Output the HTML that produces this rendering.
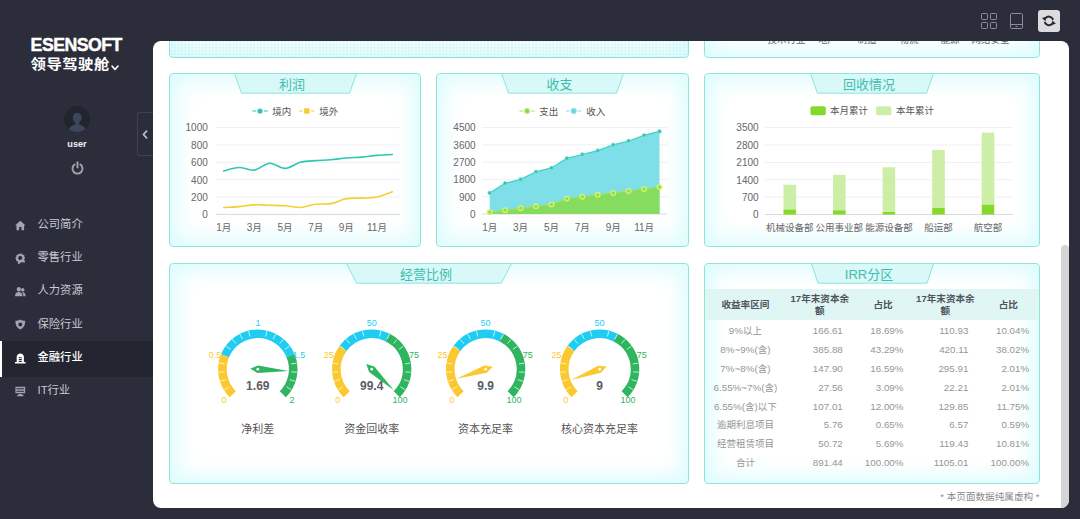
<!DOCTYPE html>
<html lang="zh"><head><meta charset="utf-8"><title>ESENSOFT</title><style>
html,body{margin:0;padding:0}
body{width:1080px;height:519px;overflow:hidden;background:#2b2d3b;position:relative;font-family:"Liberation Sans","Noto Sans CJK SC",sans-serif;}
.abs{position:absolute}
svg{display:block;overflow:visible}
span.cj{font-family:"Liberation Sans","Noto Sans CJK SC",sans-serif}
#wrap{background:#fff;border-radius:8px;overflow:hidden}
#inner{position:absolute;left:-153px;top:-41px;width:1080px;height:519px}
.panel{position:absolute;box-sizing:border-box;border:1px solid #8fe5dc;border-radius:4px;background:#fff;box-shadow:inset 0 0 20px 7px rgba(150,245,248,0.33)}
.panel.dots{background-color:#f6fefe;background-image:radial-gradient(rgba(110,190,210,0.22) 0.5px,transparent 0.95px);background-size:3.45px 3.1px}
.lb{position:absolute;white-space:nowrap;line-height:1}
.ttl{font-size:13px;color:#3cbfae}
.ax{font-size:10px;color:#666}
.lg{font-size:10px;color:#555}
.gl{font-size:9px}
.gv{font-size:12px;font-weight:bold;color:#5b5d66}
.gn{font-size:11px;color:#555}
.th{font-size:9.6px;font-weight:bold;color:#50545a}
.td{font-size:9.8px;color:#969696}
.ft{font-size:9.6px;color:#8a8a8a}
.ax span.cj,.lg span.cj,.td span.cj{font-size:9.5px}
.mi{font-size:11.3px;color:#c8cad2}
.mi.act{color:#fff}
.mi.act span.cj{font-weight:500}
.logo{font-size:17.7px;font-weight:bold;color:#fff;letter-spacing:-0.5px;line-height:1;-webkit-text-stroke:0.45px #fff}
.logo2{font-size:15.4px;color:#fff;line-height:1;letter-spacing:0.45px;transform:scaleY(0.92);transform-origin:0 100%;white-space:nowrap}
.logo2 span.cj{font-weight:bold}
.user{font-size:9.2px;font-weight:bold;color:#f0f0f2;line-height:1}
</style></head><body>
<div class="abs logo" style="left:30.6px;top:37.2px">ESENSOFT</div><div class="abs logo2" style="left:30.6px;top:56.2px"><span class="cj">领导驾驶舱</span></div><svg class="abs" style="left:110.6px;top:65px" width="8" height="6" viewBox="0 0 8 6"><path d="M1,1 L4,4.4 L7,1" fill="none" stroke="#fff" stroke-width="1.6" stroke-linecap="round" stroke-linejoin="round"/></svg><svg class="abs" style="left:63.8px;top:105.8px" width="26" height="26" viewBox="0 0 28 28"><defs><clipPath id="avc"><circle cx="14" cy="14" r="14"/></clipPath></defs><circle cx="14" cy="14" r="14" fill="#22242e"/><g clip-path="url(#avc)" fill="#3b475a"><ellipse cx="14.2" cy="12.6" rx="4.7" ry="5.4"/><path d="M12,16 H16.4 V21 H12 Z"/><path d="M5,28 C5,22.4 9,20 14.2,20 C19.4,20 23.4,22.4 23.4,28 Z"/></g></svg><div class="abs user" style="left:77px;top:144.5px;transform:translate(-50%,-50%)">user</div><svg class="abs" style="left:70.5px;top:161.2px" width="13" height="14" viewBox="0 0 13 14"><path d="M3.6,3.6 A5,5 0 1 0 9.4,3.6" fill="none" stroke="#a0a2ac" stroke-width="1.9" stroke-linecap="round"/><line x1="6.5" y1="1.2" x2="6.5" y2="6.4" stroke="#a0a2ac" stroke-width="1.9" stroke-linecap="round"/></svg><div class="abs" style="left:136.5px;top:112px;width:17px;height:44px;box-sizing:border-box;border:1px solid #3e4150;border-right:none;border-radius:3px 0 0 3px;background:#2b2d3b"></div><svg class="abs" style="left:141.8px;top:130px" width="6" height="9" viewBox="0 0 6 9"><path d="M4.6,1.2 L1.4,4.5 L4.6,7.8" fill="none" stroke="#c0c2cb" stroke-width="1.7" stroke-linecap="round" stroke-linejoin="round"/></svg><svg class="abs" style="left:15.3px;top:219.6px" width="10.6" height="10.6" viewBox="0 0 10 10" fill="#a2a4af"><path d="M5,0.6 L10,5.2 H8.6 V9.6 H6.1 V6.6 H3.9 V9.6 H1.4 V5.2 H0 Z"/></svg><div class="lb mi" style="left:37.5px;top:224.8px;transform:translate(0,-50%);"><span class="cj">公司简介</span></div><svg class="abs" style="left:15.3px;top:252.9px" width="10.6" height="10.6" viewBox="0 0 10 10" fill="#a2a4af"><path transform="rotate(-16 5 5)" d="M5,0.3 L6.2,1.2 L7.7,1.1 L8.2,2.5 L9.5,3.3 L9,4.7 L9.5,6.1 L8.2,6.9 L8.4,10 L5,8.8 L1.6,10 L1.8,6.9 L0.5,6.1 L1,4.7 L0.5,3.3 L1.8,2.5 L2.3,1.1 L3.8,1.2 Z M5,2.7 A1.9,1.9 0 1 0 5,6.5 A1.9,1.9 0 1 0 5,2.7 Z" fill-rule="evenodd"/></svg><div class="lb mi" style="left:37.5px;top:258.1px;transform:translate(0,-50%);"><span class="cj">零售行业</span></div><svg class="abs" style="left:15.3px;top:286.1px" width="10.6" height="10.6" viewBox="0 0 10 10" fill="#a2a4af"><path d="M3.6,1 A2,2.1 0 1 1 3.59,1 Z M0,9.6 C0,6.6 1.6,5.6 3.6,5.6 C5.6,5.6 7.2,6.6 7.2,9.6 Z M7.3,1.9 A1.6,1.7 0 1 1 7.29,1.9 Z M7.9,9.6 C7.9,7.6 7.4,6.6 6.6,5.9 C8.6,5.4 10,6.6 10,9.6 Z"/></svg><div class="lb mi" style="left:37.5px;top:291.3px;transform:translate(0,-50%);"><span class="cj">人力资源</span></div><svg class="abs" style="left:15.3px;top:319.4px" width="10.6" height="10.6" viewBox="0 0 10 10" fill="#a2a4af"><path d="M5,0.4 C6.5,1.4 8,1.7 9.6,1.7 C9.6,5.7 8.4,8.4 5,9.9 C1.6,8.4 0.4,5.7 0.4,1.7 C2,1.7 3.5,1.4 5,0.4 Z M5,3.2 A1.9,1.9 0 1 0 5,7 A1.9,1.9 0 1 0 5,3.2 Z" fill-rule="evenodd"/></svg><div class="lb mi" style="left:37.5px;top:324.6px;transform:translate(0,-50%);"><span class="cj">保险行业</span></div><div class="abs" style="left:0;top:340.8px;width:153px;height:36.6px;background:#232531"></div><div class="abs" style="left:0;top:340.8px;width:2.2px;height:36.6px;background:#fff"></div><svg class="abs" style="left:15.3px;top:352.6px" width="10.6" height="10.6" viewBox="0 0 10 10" fill="#fff"><path d="M1.6,8.4 V3.8 C1.6,1.6 3.2,0.4 5,0.4 C6.8,0.4 8.4,1.6 8.4,3.8 V8.4 H10 V9.8 H0 V8.4 Z M3.6,4 H6.4 V4.9 H3.6 Z M3.6,5.7 H6.4 V6.6 H3.6 Z M3.6,7.4 H6.4 V8.4 H3.6 Z" fill-rule="evenodd"/></svg><div class="lb mi act" style="left:37.5px;top:357.8px;transform:translate(0,-50%);"><span class="cj">金融行业</span></div><svg class="abs" style="left:15.3px;top:385.9px" width="10.6" height="10.6" viewBox="0 0 10 10" fill="#a2a4af"><path d="M0.4,0.8 H9.6 V6.8 H0.4 Z M3.2,7.6 H6.8 V8.6 H8 V9.6 H2 V8.6 H3.2 Z M1.4,2 H8.6 V2.6 H1.4 Z M1.4,3.5 H8.6 V4.1 H1.4 Z M1.4,5 H8.6 V5.6 H1.4 Z" fill-rule="evenodd"/></svg><div class="lb mi" style="left:37.5px;top:391.1px;transform:translate(0,-50%);">IT<span class="cj">行业</span></div>
<svg class="abs" style="left:981px;top:13px" width="16" height="16" viewBox="0 0 16 16" fill="none" stroke="#8b8e9a" stroke-width="1"><rect x="0.5" y="0.5" width="6" height="6" rx="0.8"/><rect x="9.5" y="0.5" width="6" height="6" rx="0.8"/><rect x="0.5" y="9.5" width="6" height="6" rx="0.8"/><rect x="9.5" y="9.5" width="6" height="6" rx="0.8"/></svg><svg class="abs" style="left:1010px;top:13px" width="13" height="16" viewBox="0 0 13 16" fill="none" stroke="#8b8e9a" stroke-width="1"><rect x="0.5" y="0.5" width="12" height="15" rx="1.2"/><line x1="0.5" y1="11.5" x2="12.5" y2="11.5"/><line x1="5.5" y1="13.5" x2="7.5" y2="13.5"/></svg><div class="abs" style="left:1038px;top:10px;width:22px;height:22px;border-radius:3px;background:#dcdcde"></div><svg class="abs" style="left:0;top:0" width="1080" height="40" viewBox="0 0 1080 40" fill="none" stroke="#262834" stroke-width="2" stroke-linecap="round"><path d="M1045.61,18.14 A4.3,4.3 0 0 1 1052.83,19.15"/><path d="M1052.19,23.66 A4.3,4.3 0 0 1 1044.97,22.65"/><polygon points="1041.90,18.00 1046.30,16.70 1045.40,21.20" fill="#262834" stroke="none"/><polygon points="1055.90,23.80 1051.50,25.10 1052.40,20.60" fill="#262834" stroke="none"/></svg>
<div class="abs" id="wrap" style="left:153px;top:41px;width:916px;height:466.5px"><div id="inner">
<div class="panel dots" style="left:169px;top:-60px;width:520px;height:118px"></div><div class="panel " style="left:704px;top:-60px;width:336px;height:118px"></div><div class="lb ax" style="left:786.5px;top:39.8px;transform:translate(-50%,-50%);"><span class="cj">技术行业</span></div><div class="lb ax" style="left:827.5px;top:39.8px;transform:translate(-50%,-50%);"><span class="cj">地产</span></div><div class="lb ax" style="left:867.0px;top:39.8px;transform:translate(-50%,-50%);"><span class="cj">制造</span></div><div class="lb ax" style="left:909.0px;top:39.8px;transform:translate(-50%,-50%);"><span class="cj">物流</span></div><div class="lb ax" style="left:950.0px;top:39.8px;transform:translate(-50%,-50%);"><span class="cj">能源</span></div><div class="lb ax" style="left:990.5px;top:39.8px;transform:translate(-50%,-50%);"><span class="cj">网络安全</span></div><div class="panel " style="left:169px;top:73px;width:252px;height:174px"></div><svg class="abs" style="left:233.5px;top:73px" width="123" height="22" viewBox="0 0 123 22"><polygon points="0.5,0.5 122.5,0.5 115.5,20.2 7.5,20.2" fill="#d9f8f8" stroke="#8fe5dc" stroke-width="1"/></svg><div class="lb ttl" style="left:292.0px;top:83.8px;transform:translate(-50%,-50%);"><span class="cj">利润</span></div><div class="panel " style="left:436px;top:73px;width:253px;height:174px"></div><svg class="abs" style="left:501.0px;top:73px" width="123" height="22" viewBox="0 0 123 22"><polygon points="0.5,0.5 122.5,0.5 115.5,20.2 7.5,20.2" fill="#d9f8f8" stroke="#8fe5dc" stroke-width="1"/></svg><div class="lb ttl" style="left:559.5px;top:83.8px;transform:translate(-50%,-50%);"><span class="cj">收支</span></div><div class="panel " style="left:704px;top:73px;width:336px;height:174px"></div><svg class="abs" style="left:810.0px;top:73px" width="124" height="22" viewBox="0 0 124 22"><polygon points="0.5,0.5 123.5,0.5 116.6,20.2 7.4,20.2" fill="#d9f8f8" stroke="#8fe5dc" stroke-width="1"/></svg><div class="lb ttl" style="left:869.0px;top:83.8px;transform:translate(-50%,-50%);"><span class="cj">回收情况</span></div><div class="panel " style="left:169px;top:263px;width:520px;height:221px"></div><svg class="abs" style="left:346.0px;top:263px" width="166" height="22" viewBox="0 0 166 22"><polygon points="0.5,0.5 165.5,0.5 155.4,20.2 10.6,20.2" fill="#d9f8f8" stroke="#8fe5dc" stroke-width="1"/></svg><div class="lb ttl" style="left:426.0px;top:273.8px;transform:translate(-50%,-50%);"><span class="cj">经营比例</span></div><div class="panel " style="left:704px;top:263px;width:336px;height:221px"></div><svg class="abs" style="left:810.5px;top:263px" width="123" height="22" viewBox="0 0 123 22"><polygon points="0.5,0.5 122.5,0.5 116,20.2 7,20.2" fill="#d9f8f8" stroke="#8fe5dc" stroke-width="1"/></svg><div class="lb ttl" style="left:869.0px;top:273.8px;transform:translate(-50%,-50%);">IRR<span class="cj">分区</span></div><svg class="abs" style="left:0;top:0" width="1080" height="519" viewBox="0 0 1080 519"><line x1="216.0" x2="400.0" y1="214.4" y2="214.4" stroke="#d9d9d9" stroke-width="1"/><line x1="216.0" x2="400.0" y1="197.0" y2="197.0" stroke="#efefef" stroke-width="1"/><line x1="216.0" x2="400.0" y1="179.7" y2="179.7" stroke="#efefef" stroke-width="1"/><line x1="216.0" x2="400.0" y1="162.3" y2="162.3" stroke="#efefef" stroke-width="1"/><line x1="216.0" x2="400.0" y1="145.0" y2="145.0" stroke="#efefef" stroke-width="1"/><line x1="216.0" x2="400.0" y1="127.6" y2="127.6" stroke="#efefef" stroke-width="1"/><path d="M223.7,171.0C226.2,170.4 233.9,167.7 239.0,167.5C244.1,167.4 249.2,170.9 254.3,170.1C259.4,169.4 264.6,163.5 269.7,163.2C274.8,162.9 279.9,168.5 285.0,168.4C290.1,168.3 295.2,163.6 300.3,162.3C305.4,161.0 310.6,161.0 315.7,160.6C320.8,160.2 325.9,160.2 331.0,159.7C336.1,159.3 341.2,158.4 346.3,158.0C351.4,157.5 356.6,157.5 361.7,157.1C366.8,156.7 371.9,155.8 377.0,155.4C382.1,154.9 389.8,154.7 392.3,154.5" fill="none" stroke="#2ec7b5" stroke-width="1.6" stroke-linecap="round"/><path d="M223.7,207.5C226.2,207.3 233.9,207.0 239.0,206.6C244.1,206.2 249.2,205.1 254.3,204.9C259.4,204.6 264.6,205.1 269.7,205.3C274.8,205.4 279.9,205.4 285.0,205.7C290.1,206.1 295.2,207.7 300.3,207.5C305.4,207.2 310.6,204.8 315.7,204.2C320.8,203.5 325.9,204.5 331.0,203.6C336.1,202.6 341.2,199.5 346.3,198.6C351.4,197.7 356.6,198.3 361.7,198.1C366.8,197.8 371.9,198.1 377.0,197.0C382.1,196.0 389.8,192.7 392.3,191.8" fill="none" stroke="#f2cf33" stroke-width="1.6" stroke-linecap="round"/><line x1="252.3" x2="267.8" y1="111" y2="111" stroke="#2ec7b5" stroke-width="1.1"/><circle cx="260" cy="111" r="3.3" fill="#2ec7b5" stroke="#fff" stroke-width="1.4"/><line x1="299" x2="314.6" y1="111" y2="111" stroke="#f2cf33" stroke-width="1.1"/><rect x="303.4" y="107.6" width="6.8" height="6.8" fill="#f2cf33" stroke="#fff" stroke-width="1.4"/></svg><div class="lb ax" style="left:207.8px;top:215.2px;transform:translate(-100%,-50%);">0</div><div class="lb ax" style="left:207.8px;top:197.8px;transform:translate(-100%,-50%);">200</div><div class="lb ax" style="left:207.8px;top:180.5px;transform:translate(-100%,-50%);">400</div><div class="lb ax" style="left:207.8px;top:163.1px;transform:translate(-100%,-50%);">600</div><div class="lb ax" style="left:207.8px;top:145.8px;transform:translate(-100%,-50%);">800</div><div class="lb ax" style="left:207.8px;top:128.4px;transform:translate(-100%,-50%);">1000</div><div class="lb lg" style="left:272.3px;top:111.6px;transform:translate(0,-50%);"><span class="cj">境内</span></div><div class="lb lg" style="left:319.2px;top:111.6px;transform:translate(0,-50%);"><span class="cj">境外</span></div><div class="lb ax" style="left:223.7px;top:228.2px;transform:translate(-50%,-50%);">1<span class="cj">月</span></div><div class="lb ax" style="left:254.3px;top:228.2px;transform:translate(-50%,-50%);">3<span class="cj">月</span></div><div class="lb ax" style="left:285.0px;top:228.2px;transform:translate(-50%,-50%);">5<span class="cj">月</span></div><div class="lb ax" style="left:315.7px;top:228.2px;transform:translate(-50%,-50%);">7<span class="cj">月</span></div><div class="lb ax" style="left:346.3px;top:228.2px;transform:translate(-50%,-50%);">9<span class="cj">月</span></div><div class="lb ax" style="left:377.0px;top:228.2px;transform:translate(-50%,-50%);">11<span class="cj">月</span></div><svg class="abs" style="left:0;top:0" width="1080" height="519" viewBox="0 0 1080 519"><line x1="482.0" x2="667.2" y1="214.0" y2="214.0" stroke="#d9d9d9" stroke-width="1"/><line x1="482.0" x2="667.2" y1="196.7" y2="196.7" stroke="#efefef" stroke-width="1"/><line x1="482.0" x2="667.2" y1="179.4" y2="179.4" stroke="#efefef" stroke-width="1"/><line x1="482.0" x2="667.2" y1="162.2" y2="162.2" stroke="#efefef" stroke-width="1"/><line x1="482.0" x2="667.2" y1="144.9" y2="144.9" stroke="#efefef" stroke-width="1"/><line x1="482.0" x2="667.2" y1="127.6" y2="127.6" stroke="#efefef" stroke-width="1"/><polygon points="489.7,192.9 505.1,183.3 520.6,179.4 536.0,171.8 551.5,167.9 566.9,158.3 582.3,154.5 597.8,150.6 613.2,144.9 628.6,141.0 644.1,135.3 659.5,131.4 659.5,214.0 489.7,214.0" fill="#7edfe9"/><polygon points="489.7,212.1 505.1,210.2 520.6,208.2 536.0,206.3 551.5,204.4 566.9,198.6 582.3,196.7 597.8,194.8 613.2,192.9 628.6,191.0 644.1,189.0 659.5,187.1 659.5,214.0 489.7,214.0" fill="#86dc5e"/><polyline points="489.7,192.9 505.1,183.3 520.6,179.4 536.0,171.8 551.5,167.9 566.9,158.3 582.3,154.5 597.8,150.6 613.2,144.9 628.6,141.0 644.1,135.3 659.5,131.4" fill="none" stroke="#3ccfc4" stroke-width="1.2"/><polyline points="489.7,212.1 505.1,210.2 520.6,208.2 536.0,206.3 551.5,204.4 566.9,198.6 582.3,196.7 597.8,194.8 613.2,192.9 628.6,191.0 644.1,189.0 659.5,187.1" fill="none" stroke="#9be35f" stroke-width="1.2"/><circle cx="489.7" cy="192.9" r="1.9" fill="#2fc3b0" stroke="#7fe6e0" stroke-width="0.8"/><circle cx="505.1" cy="183.3" r="1.9" fill="#2fc3b0" stroke="#7fe6e0" stroke-width="0.8"/><circle cx="520.6" cy="179.4" r="1.9" fill="#2fc3b0" stroke="#7fe6e0" stroke-width="0.8"/><circle cx="536.0" cy="171.8" r="1.9" fill="#2fc3b0" stroke="#7fe6e0" stroke-width="0.8"/><circle cx="551.5" cy="167.9" r="1.9" fill="#2fc3b0" stroke="#7fe6e0" stroke-width="0.8"/><circle cx="566.9" cy="158.3" r="1.9" fill="#2fc3b0" stroke="#7fe6e0" stroke-width="0.8"/><circle cx="582.3" cy="154.5" r="1.9" fill="#2fc3b0" stroke="#7fe6e0" stroke-width="0.8"/><circle cx="597.8" cy="150.6" r="1.9" fill="#2fc3b0" stroke="#7fe6e0" stroke-width="0.8"/><circle cx="613.2" cy="144.9" r="1.9" fill="#2fc3b0" stroke="#7fe6e0" stroke-width="0.8"/><circle cx="628.6" cy="141.0" r="1.9" fill="#2fc3b0" stroke="#7fe6e0" stroke-width="0.8"/><circle cx="644.1" cy="135.3" r="1.9" fill="#2fc3b0" stroke="#7fe6e0" stroke-width="0.8"/><circle cx="659.5" cy="131.4" r="1.9" fill="#2fc3b0" stroke="#7fe6e0" stroke-width="0.8"/><circle cx="489.7" cy="212.1" r="2.3" fill="#8fdc57" stroke="#d6f36a" stroke-width="1.3"/><circle cx="505.1" cy="210.2" r="2.3" fill="#8fdc57" stroke="#d6f36a" stroke-width="1.3"/><circle cx="520.6" cy="208.2" r="2.3" fill="#8fdc57" stroke="#d6f36a" stroke-width="1.3"/><circle cx="536.0" cy="206.3" r="2.3" fill="#8fdc57" stroke="#d6f36a" stroke-width="1.3"/><circle cx="551.5" cy="204.4" r="2.3" fill="#8fdc57" stroke="#d6f36a" stroke-width="1.3"/><circle cx="566.9" cy="198.6" r="2.3" fill="#8fdc57" stroke="#d6f36a" stroke-width="1.3"/><circle cx="582.3" cy="196.7" r="2.3" fill="#8fdc57" stroke="#d6f36a" stroke-width="1.3"/><circle cx="597.8" cy="194.8" r="2.3" fill="#8fdc57" stroke="#d6f36a" stroke-width="1.3"/><circle cx="613.2" cy="192.9" r="2.3" fill="#8fdc57" stroke="#d6f36a" stroke-width="1.3"/><circle cx="628.6" cy="191.0" r="2.3" fill="#8fdc57" stroke="#d6f36a" stroke-width="1.3"/><circle cx="644.1" cy="189.0" r="2.3" fill="#8fdc57" stroke="#d6f36a" stroke-width="1.3"/><circle cx="659.5" cy="187.1" r="2.3" fill="#8fdc57" stroke="#d6f36a" stroke-width="1.3"/><line x1="519.4" x2="534.8" y1="111" y2="111" stroke="#a9e75f" stroke-width="1.1"/><circle cx="527.1" cy="111" r="4" fill="#fff"/><circle cx="527.1" cy="111" r="2.3" fill="#80d552" stroke="#b4e868" stroke-width="1.3"/><line x1="566" x2="581.4" y1="111" y2="111" stroke="#7ddfe9" stroke-width="1.1"/><circle cx="573.7" cy="111" r="4" fill="#fff"/><circle cx="573.7" cy="111" r="2.4" fill="#5fd3e3" stroke="#84e1ec" stroke-width="1.2"/></svg><div class="lb ax" style="left:475.6px;top:214.8px;transform:translate(-100%,-50%);">0</div><div class="lb ax" style="left:475.6px;top:197.5px;transform:translate(-100%,-50%);">900</div><div class="lb ax" style="left:475.6px;top:180.2px;transform:translate(-100%,-50%);">1800</div><div class="lb ax" style="left:475.6px;top:163.0px;transform:translate(-100%,-50%);">2700</div><div class="lb ax" style="left:475.6px;top:145.7px;transform:translate(-100%,-50%);">3600</div><div class="lb ax" style="left:475.6px;top:128.4px;transform:translate(-100%,-50%);">4500</div><div class="lb lg" style="left:539.2px;top:111.5px;transform:translate(0,-50%);"><span class="cj">支出</span></div><div class="lb lg" style="left:586.2px;top:111.5px;transform:translate(0,-50%);"><span class="cj">收入</span></div><div class="lb ax" style="left:489.7px;top:228.1px;transform:translate(-50%,-50%);">1<span class="cj">月</span></div><div class="lb ax" style="left:520.6px;top:228.1px;transform:translate(-50%,-50%);">3<span class="cj">月</span></div><div class="lb ax" style="left:551.5px;top:228.1px;transform:translate(-50%,-50%);">5<span class="cj">月</span></div><div class="lb ax" style="left:582.3px;top:228.1px;transform:translate(-50%,-50%);">7<span class="cj">月</span></div><div class="lb ax" style="left:613.2px;top:228.1px;transform:translate(-50%,-50%);">9<span class="cj">月</span></div><div class="lb ax" style="left:644.1px;top:228.1px;transform:translate(-50%,-50%);">11<span class="cj">月</span></div><svg class="abs" style="left:0;top:0" width="1080" height="519" viewBox="0 0 1080 519"><line x1="765.0" x2="1012.8" y1="214.5" y2="214.5" stroke="#d9d9d9" stroke-width="1"/><line x1="765.0" x2="1012.8" y1="197.1" y2="197.1" stroke="#efefef" stroke-width="1"/><line x1="765.0" x2="1012.8" y1="179.7" y2="179.7" stroke="#efefef" stroke-width="1"/><line x1="765.0" x2="1012.8" y1="162.4" y2="162.4" stroke="#efefef" stroke-width="1"/><line x1="765.0" x2="1012.8" y1="145.0" y2="145.0" stroke="#efefef" stroke-width="1"/><line x1="765.0" x2="1012.8" y1="127.6" y2="127.6" stroke="#efefef" stroke-width="1"/><rect x="783.5" y="184.7" width="12.6" height="24.8" fill="#cdeea6"/><rect x="783.5" y="209.5" width="12.6" height="5.0" fill="#84d92b"/><rect x="833.0" y="174.8" width="12.6" height="35.5" fill="#cdeea6"/><rect x="833.0" y="210.3" width="12.6" height="4.2" fill="#84d92b"/><rect x="882.6" y="167.3" width="12.6" height="44.7" fill="#cdeea6"/><rect x="882.6" y="212.0" width="12.6" height="2.5" fill="#84d92b"/><rect x="932.2" y="149.9" width="12.6" height="58.1" fill="#cdeea6"/><rect x="932.2" y="208.0" width="12.6" height="6.5" fill="#84d92b"/><rect x="981.7" y="132.6" width="12.6" height="72.3" fill="#cdeea6"/><rect x="981.7" y="204.8" width="12.6" height="9.7" fill="#84d92b"/><rect x="810.4" y="106.2" width="15.4" height="9" rx="2" fill="#84d92b"/><rect x="876" y="106.2" width="15.4" height="9" rx="2" fill="#cdeea6"/></svg><div class="lb ax" style="left:758.6px;top:215.3px;transform:translate(-100%,-50%);">0</div><div class="lb ax" style="left:758.6px;top:197.9px;transform:translate(-100%,-50%);">700</div><div class="lb ax" style="left:758.6px;top:180.5px;transform:translate(-100%,-50%);">1400</div><div class="lb ax" style="left:758.6px;top:163.2px;transform:translate(-100%,-50%);">2100</div><div class="lb ax" style="left:758.6px;top:145.8px;transform:translate(-100%,-50%);">2800</div><div class="lb ax" style="left:758.6px;top:128.4px;transform:translate(-100%,-50%);">3500</div><div class="lb ax" style="left:789.8px;top:228.2px;transform:translate(-50%,-50%);"><span class="cj">机械设备部</span></div><div class="lb ax" style="left:839.3px;top:228.2px;transform:translate(-50%,-50%);"><span class="cj">公用事业部</span></div><div class="lb ax" style="left:888.9px;top:228.2px;transform:translate(-50%,-50%);"><span class="cj">能源设备部</span></div><div class="lb ax" style="left:938.5px;top:228.2px;transform:translate(-50%,-50%);"><span class="cj">船运部</span></div><div class="lb ax" style="left:988.0px;top:228.2px;transform:translate(-50%,-50%);"><span class="cj">航空部</span></div><div class="lb lg" style="left:830.0px;top:111.0px;transform:translate(0,-50%);"><span class="cj">本月累计</span></div><div class="lb lg" style="left:896.0px;top:111.0px;transform:translate(0,-50%);"><span class="cj">本年累计</span></div><svg class="abs" style="left:0;top:0" width="1080" height="519" viewBox="0 0 1080 519"><path d="M232.77,394.23A35.400000000000006,35.400000000000006 0 0 1 225.09,355.65" fill="none" stroke="#fbc92f" stroke-width="8.6"/><path d="M225.09,355.65A35.400000000000006,35.400000000000006 0 0 1 290.51,355.65" fill="none" stroke="#1fcdf2" stroke-width="8.6"/><path d="M290.51,355.65A35.400000000000006,35.400000000000006 0 0 1 282.83,394.23" fill="none" stroke="#2fb560" stroke-width="8.6"/><line x1="224.38" y1="389.68" x2="229.07" y2="386.81" stroke="#fff" stroke-width="0.9" stroke-opacity="0.8"/><line x1="220.52" y1="381.31" x2="225.75" y2="379.61" stroke="#fff" stroke-width="0.9" stroke-opacity="0.8"/><line x1="218.72" y1="372.28" x2="224.20" y2="371.84" stroke="#fff" stroke-width="0.9" stroke-opacity="0.8"/><line x1="219.08" y1="363.07" x2="224.51" y2="363.93" stroke="#fff" stroke-width="0.9" stroke-opacity="0.8"/><line x1="226.09" y1="346.16" x2="230.54" y2="349.39" stroke="#fff" stroke-width="0.9" stroke-opacity="0.8"/><line x1="232.34" y1="339.39" x2="235.91" y2="343.57" stroke="#fff" stroke-width="0.9" stroke-opacity="0.8"/><line x1="240.00" y1="334.27" x2="242.50" y2="339.17" stroke="#fff" stroke-width="0.9" stroke-opacity="0.8"/><line x1="248.65" y1="331.08" x2="249.93" y2="336.43" stroke="#fff" stroke-width="0.9" stroke-opacity="0.8"/><line x1="266.95" y1="331.08" x2="265.67" y2="336.43" stroke="#fff" stroke-width="0.9" stroke-opacity="0.8"/><line x1="275.60" y1="334.27" x2="273.10" y2="339.17" stroke="#fff" stroke-width="0.9" stroke-opacity="0.8"/><line x1="283.26" y1="339.39" x2="279.69" y2="343.57" stroke="#fff" stroke-width="0.9" stroke-opacity="0.8"/><line x1="289.51" y1="346.16" x2="285.06" y2="349.39" stroke="#fff" stroke-width="0.9" stroke-opacity="0.8"/><line x1="296.52" y1="363.07" x2="291.09" y2="363.93" stroke="#fff" stroke-width="0.9" stroke-opacity="0.8"/><line x1="296.88" y1="372.28" x2="291.40" y2="371.84" stroke="#fff" stroke-width="0.9" stroke-opacity="0.8"/><line x1="295.08" y1="381.31" x2="289.85" y2="379.61" stroke="#fff" stroke-width="0.9" stroke-opacity="0.8"/><line x1="291.22" y1="389.68" x2="286.53" y2="386.81" stroke="#fff" stroke-width="0.9" stroke-opacity="0.8"/><polygon points="250.31,368.79 257.59,372.99 288.25,370.88 258.01,365.41" fill="#2fb560"/><circle cx="257.8" cy="369.2" r="1.4" fill="#fff"/></svg><div class="lb gl" style="left:223.9px;top:400.2px;transform:translate(-50%,-50%);color:#fbc92f">0</div><div class="lb gl" style="left:214.9px;top:355.2px;transform:translate(-50%,-50%);color:#fbc92f">0.5</div><div class="lb gl" style="left:258.1px;top:322.6px;transform:translate(-50%,-50%);color:#1fcdf2">1</div><div class="lb gl" style="left:299.1px;top:355.2px;transform:translate(-50%,-50%);color:#1fcdf2">1.5</div><div class="lb gl" style="left:291.9px;top:400.2px;transform:translate(-50%,-50%);color:#2fb560">2</div><div class="lb gv" style="left:257.8px;top:385.6px;transform:translate(-50%,-50%);">1.69</div><div class="lb gn" style="left:257.8px;top:429.3px;transform:translate(-50%,-50%);"><span class="cj">净利差</span></div><svg class="abs" style="left:0;top:0" width="1080" height="519" viewBox="0 0 1080 519"><path d="M346.67,394.23A35.400000000000006,35.400000000000006 0 0 1 343.06,348.39" fill="none" stroke="#fbc92f" stroke-width="8.6"/><path d="M343.06,348.39A35.400000000000006,35.400000000000006 0 0 1 387.77,337.66" fill="none" stroke="#1fcdf2" stroke-width="8.6"/><path d="M387.77,337.66A35.400000000000006,35.400000000000006 0 0 1 396.73,394.23" fill="none" stroke="#2fb560" stroke-width="8.6"/><line x1="338.28" y1="389.68" x2="342.97" y2="386.81" stroke="#fff" stroke-width="0.9" stroke-opacity="0.8"/><line x1="334.42" y1="381.31" x2="339.65" y2="379.61" stroke="#fff" stroke-width="0.9" stroke-opacity="0.8"/><line x1="332.62" y1="372.28" x2="338.10" y2="371.84" stroke="#fff" stroke-width="0.9" stroke-opacity="0.8"/><line x1="332.98" y1="363.07" x2="338.41" y2="363.93" stroke="#fff" stroke-width="0.9" stroke-opacity="0.8"/><line x1="339.99" y1="346.16" x2="344.44" y2="349.39" stroke="#fff" stroke-width="0.9" stroke-opacity="0.8"/><line x1="346.24" y1="339.39" x2="349.81" y2="343.57" stroke="#fff" stroke-width="0.9" stroke-opacity="0.8"/><line x1="353.90" y1="334.27" x2="356.40" y2="339.17" stroke="#fff" stroke-width="0.9" stroke-opacity="0.8"/><line x1="362.55" y1="331.08" x2="363.83" y2="336.43" stroke="#fff" stroke-width="0.9" stroke-opacity="0.8"/><line x1="380.85" y1="331.08" x2="379.57" y2="336.43" stroke="#fff" stroke-width="0.9" stroke-opacity="0.8"/><line x1="389.50" y1="334.27" x2="387.00" y2="339.17" stroke="#fff" stroke-width="0.9" stroke-opacity="0.8"/><line x1="397.16" y1="339.39" x2="393.59" y2="343.57" stroke="#fff" stroke-width="0.9" stroke-opacity="0.8"/><line x1="403.41" y1="346.16" x2="398.96" y2="349.39" stroke="#fff" stroke-width="0.9" stroke-opacity="0.8"/><line x1="410.42" y1="363.07" x2="404.99" y2="363.93" stroke="#fff" stroke-width="0.9" stroke-opacity="0.8"/><line x1="410.78" y1="372.28" x2="405.30" y2="371.84" stroke="#fff" stroke-width="0.9" stroke-opacity="0.8"/><line x1="408.98" y1="381.31" x2="403.75" y2="379.61" stroke="#fff" stroke-width="0.9" stroke-opacity="0.8"/><line x1="405.12" y1="389.68" x2="400.43" y2="386.81" stroke="#fff" stroke-width="0.9" stroke-opacity="0.8"/><polygon points="366.25,364.05 369.09,371.96 393.87,390.15 374.31,366.44" fill="#2fb560"/><circle cx="371.7" cy="369.2" r="1.4" fill="#fff"/></svg><div class="lb gl" style="left:337.8px;top:400.2px;transform:translate(-50%,-50%);color:#fbc92f">0</div><div class="lb gl" style="left:328.7px;top:355.2px;transform:translate(-50%,-50%);color:#fbc92f">25</div><div class="lb gl" style="left:371.7px;top:322.6px;transform:translate(-50%,-50%);color:#1fcdf2">50</div><div class="lb gl" style="left:413.9px;top:355.2px;transform:translate(-50%,-50%);color:#2fb560">75</div><div class="lb gl" style="left:400.0px;top:400.2px;transform:translate(-50%,-50%);color:#2fb560">100</div><div class="lb gv" style="left:371.7px;top:385.6px;transform:translate(-50%,-50%);">99.4</div><div class="lb gn" style="left:371.7px;top:429.3px;transform:translate(-50%,-50%);"><span class="cj">资金回收率</span></div><svg class="abs" style="left:0;top:0" width="1080" height="519" viewBox="0 0 1080 519"><path d="M460.57,394.23A35.400000000000006,35.400000000000006 0 0 1 456.96,348.39" fill="none" stroke="#fbc92f" stroke-width="8.6"/><path d="M456.96,348.39A35.400000000000006,35.400000000000006 0 0 1 501.67,337.66" fill="none" stroke="#1fcdf2" stroke-width="8.6"/><path d="M501.67,337.66A35.400000000000006,35.400000000000006 0 0 1 510.63,394.23" fill="none" stroke="#2fb560" stroke-width="8.6"/><line x1="452.18" y1="389.68" x2="456.87" y2="386.81" stroke="#fff" stroke-width="0.9" stroke-opacity="0.8"/><line x1="448.32" y1="381.31" x2="453.55" y2="379.61" stroke="#fff" stroke-width="0.9" stroke-opacity="0.8"/><line x1="446.52" y1="372.28" x2="452.00" y2="371.84" stroke="#fff" stroke-width="0.9" stroke-opacity="0.8"/><line x1="446.88" y1="363.07" x2="452.31" y2="363.93" stroke="#fff" stroke-width="0.9" stroke-opacity="0.8"/><line x1="453.89" y1="346.16" x2="458.34" y2="349.39" stroke="#fff" stroke-width="0.9" stroke-opacity="0.8"/><line x1="460.14" y1="339.39" x2="463.71" y2="343.57" stroke="#fff" stroke-width="0.9" stroke-opacity="0.8"/><line x1="467.80" y1="334.27" x2="470.30" y2="339.17" stroke="#fff" stroke-width="0.9" stroke-opacity="0.8"/><line x1="476.45" y1="331.08" x2="477.73" y2="336.43" stroke="#fff" stroke-width="0.9" stroke-opacity="0.8"/><line x1="494.75" y1="331.08" x2="493.47" y2="336.43" stroke="#fff" stroke-width="0.9" stroke-opacity="0.8"/><line x1="503.40" y1="334.27" x2="500.90" y2="339.17" stroke="#fff" stroke-width="0.9" stroke-opacity="0.8"/><line x1="511.06" y1="339.39" x2="507.49" y2="343.57" stroke="#fff" stroke-width="0.9" stroke-opacity="0.8"/><line x1="517.31" y1="346.16" x2="512.86" y2="349.39" stroke="#fff" stroke-width="0.9" stroke-opacity="0.8"/><line x1="524.32" y1="363.07" x2="518.89" y2="363.93" stroke="#fff" stroke-width="0.9" stroke-opacity="0.8"/><line x1="524.68" y1="372.28" x2="519.20" y2="371.84" stroke="#fff" stroke-width="0.9" stroke-opacity="0.8"/><line x1="522.88" y1="381.31" x2="517.65" y2="379.61" stroke="#fff" stroke-width="0.9" stroke-opacity="0.8"/><line x1="519.02" y1="389.68" x2="514.33" y2="386.81" stroke="#fff" stroke-width="0.9" stroke-opacity="0.8"/><polygon points="492.72,366.85 484.41,365.59 456.64,378.76 486.79,372.81" fill="#fbc92f"/><circle cx="485.6" cy="369.2" r="1.4" fill="#fff"/></svg><div class="lb gl" style="left:451.7px;top:400.2px;transform:translate(-50%,-50%);color:#fbc92f">0</div><div class="lb gl" style="left:442.6px;top:355.2px;transform:translate(-50%,-50%);color:#fbc92f">25</div><div class="lb gl" style="left:485.6px;top:322.6px;transform:translate(-50%,-50%);color:#1fcdf2">50</div><div class="lb gl" style="left:527.8px;top:355.2px;transform:translate(-50%,-50%);color:#2fb560">75</div><div class="lb gl" style="left:513.9px;top:400.2px;transform:translate(-50%,-50%);color:#2fb560">100</div><div class="lb gv" style="left:485.6px;top:385.6px;transform:translate(-50%,-50%);">9.9</div><div class="lb gn" style="left:485.6px;top:429.3px;transform:translate(-50%,-50%);"><span class="cj">资本充足率</span></div><svg class="abs" style="left:0;top:0" width="1080" height="519" viewBox="0 0 1080 519"><path d="M574.57,394.23A35.400000000000006,35.400000000000006 0 0 1 570.96,348.39" fill="none" stroke="#fbc92f" stroke-width="8.6"/><path d="M570.96,348.39A35.400000000000006,35.400000000000006 0 0 1 615.67,337.66" fill="none" stroke="#1fcdf2" stroke-width="8.6"/><path d="M615.67,337.66A35.400000000000006,35.400000000000006 0 0 1 624.63,394.23" fill="none" stroke="#2fb560" stroke-width="8.6"/><line x1="566.18" y1="389.68" x2="570.87" y2="386.81" stroke="#fff" stroke-width="0.9" stroke-opacity="0.8"/><line x1="562.32" y1="381.31" x2="567.55" y2="379.61" stroke="#fff" stroke-width="0.9" stroke-opacity="0.8"/><line x1="560.52" y1="372.28" x2="566.00" y2="371.84" stroke="#fff" stroke-width="0.9" stroke-opacity="0.8"/><line x1="560.88" y1="363.07" x2="566.31" y2="363.93" stroke="#fff" stroke-width="0.9" stroke-opacity="0.8"/><line x1="567.89" y1="346.16" x2="572.34" y2="349.39" stroke="#fff" stroke-width="0.9" stroke-opacity="0.8"/><line x1="574.14" y1="339.39" x2="577.71" y2="343.57" stroke="#fff" stroke-width="0.9" stroke-opacity="0.8"/><line x1="581.80" y1="334.27" x2="584.30" y2="339.17" stroke="#fff" stroke-width="0.9" stroke-opacity="0.8"/><line x1="590.45" y1="331.08" x2="591.73" y2="336.43" stroke="#fff" stroke-width="0.9" stroke-opacity="0.8"/><line x1="608.75" y1="331.08" x2="607.47" y2="336.43" stroke="#fff" stroke-width="0.9" stroke-opacity="0.8"/><line x1="617.40" y1="334.27" x2="614.90" y2="339.17" stroke="#fff" stroke-width="0.9" stroke-opacity="0.8"/><line x1="625.06" y1="339.39" x2="621.49" y2="343.57" stroke="#fff" stroke-width="0.9" stroke-opacity="0.8"/><line x1="631.31" y1="346.16" x2="626.86" y2="349.39" stroke="#fff" stroke-width="0.9" stroke-opacity="0.8"/><line x1="638.32" y1="363.07" x2="632.89" y2="363.93" stroke="#fff" stroke-width="0.9" stroke-opacity="0.8"/><line x1="638.68" y1="372.28" x2="633.20" y2="371.84" stroke="#fff" stroke-width="0.9" stroke-opacity="0.8"/><line x1="636.88" y1="381.31" x2="631.65" y2="379.61" stroke="#fff" stroke-width="0.9" stroke-opacity="0.8"/><line x1="633.02" y1="389.68" x2="628.33" y2="386.81" stroke="#fff" stroke-width="0.9" stroke-opacity="0.8"/><polygon points="606.62,366.55 598.26,365.65 571.07,379.98 600.94,372.75" fill="#fbc92f"/><circle cx="599.6" cy="369.2" r="1.4" fill="#fff"/></svg><div class="lb gl" style="left:565.7px;top:400.2px;transform:translate(-50%,-50%);color:#fbc92f">0</div><div class="lb gl" style="left:556.6px;top:355.2px;transform:translate(-50%,-50%);color:#fbc92f">25</div><div class="lb gl" style="left:599.6px;top:322.6px;transform:translate(-50%,-50%);color:#1fcdf2">50</div><div class="lb gl" style="left:641.8px;top:355.2px;transform:translate(-50%,-50%);color:#2fb560">75</div><div class="lb gl" style="left:627.9px;top:400.2px;transform:translate(-50%,-50%);color:#2fb560">100</div><div class="lb gv" style="left:599.6px;top:385.6px;transform:translate(-50%,-50%);">9</div><div class="lb gn" style="left:599.6px;top:429.3px;transform:translate(-50%,-50%);"><span class="cj">核心资本充足率</span></div><div class="abs" style="left:705px;top:289px;width:334px;height:31px;background:#dff6f5"></div><div class="lb th" style="left:745.4px;top:304.8px;transform:translate(-50%,-50%);"><span class="cj">收益率区间</span></div><div class="lb th" style="left:819.8px;top:299.2px;transform:translate(-50%,-50%);">17<span class="cj">年末资本余</span></div><div class="lb th" style="left:819.8px;top:310.6px;transform:translate(-50%,-50%);"><span class="cj">额</span></div><div class="lb th" style="left:945.4px;top:299.2px;transform:translate(-50%,-50%);">17<span class="cj">年末资本余</span></div><div class="lb th" style="left:945.4px;top:310.6px;transform:translate(-50%,-50%);"><span class="cj">额</span></div><div class="lb th" style="left:883.0px;top:304.8px;transform:translate(-50%,-50%);"><span class="cj">占比</span></div><div class="lb th" style="left:1008.3px;top:304.8px;transform:translate(-50%,-50%);"><span class="cj">占比</span></div><div class="lb td" style="left:745.4px;top:331.0px;transform:translate(-50%,-50%);">9%<span class="cj">以上</span></div><div class="lb td" style="left:842.8px;top:331.0px;transform:translate(-100%,-50%);">166.61</div><div class="lb td" style="left:903.5px;top:331.0px;transform:translate(-100%,-50%);">18.69%</div><div class="lb td" style="left:968.4px;top:331.0px;transform:translate(-100%,-50%);">110.93</div><div class="lb td" style="left:1029.2px;top:331.0px;transform:translate(-100%,-50%);">10.04%</div><div class="lb td" style="left:745.4px;top:349.9px;transform:translate(-50%,-50%);">8%~9%(<span class="cj">含</span>)</div><div class="lb td" style="left:842.8px;top:349.9px;transform:translate(-100%,-50%);">385.88</div><div class="lb td" style="left:903.5px;top:349.9px;transform:translate(-100%,-50%);">43.29%</div><div class="lb td" style="left:968.4px;top:349.9px;transform:translate(-100%,-50%);">420.11</div><div class="lb td" style="left:1029.2px;top:349.9px;transform:translate(-100%,-50%);">38.02%</div><div class="lb td" style="left:745.4px;top:368.8px;transform:translate(-50%,-50%);">7%~8%(<span class="cj">含</span>)</div><div class="lb td" style="left:842.8px;top:368.8px;transform:translate(-100%,-50%);">147.90</div><div class="lb td" style="left:903.5px;top:368.8px;transform:translate(-100%,-50%);">16.59%</div><div class="lb td" style="left:968.4px;top:368.8px;transform:translate(-100%,-50%);">295.91</div><div class="lb td" style="left:1029.2px;top:368.8px;transform:translate(-100%,-50%);">2.01%</div><div class="lb td" style="left:745.4px;top:387.7px;transform:translate(-50%,-50%);">6.55%~7%(<span class="cj">含</span>)</div><div class="lb td" style="left:842.8px;top:387.7px;transform:translate(-100%,-50%);">27.56</div><div class="lb td" style="left:903.5px;top:387.7px;transform:translate(-100%,-50%);">3.09%</div><div class="lb td" style="left:968.4px;top:387.7px;transform:translate(-100%,-50%);">22.21</div><div class="lb td" style="left:1029.2px;top:387.7px;transform:translate(-100%,-50%);">2.01%</div><div class="lb td" style="left:745.4px;top:406.6px;transform:translate(-50%,-50%);">6.55%(<span class="cj">含</span>)<span class="cj">以下</span></div><div class="lb td" style="left:842.8px;top:406.6px;transform:translate(-100%,-50%);">107.01</div><div class="lb td" style="left:903.5px;top:406.6px;transform:translate(-100%,-50%);">12.00%</div><div class="lb td" style="left:968.4px;top:406.6px;transform:translate(-100%,-50%);">129.85</div><div class="lb td" style="left:1029.2px;top:406.6px;transform:translate(-100%,-50%);">11.75%</div><div class="lb td" style="left:745.4px;top:425.4px;transform:translate(-50%,-50%);"><span class="cj">逾期利息项目</span></div><div class="lb td" style="left:842.8px;top:425.4px;transform:translate(-100%,-50%);">5.76</div><div class="lb td" style="left:903.5px;top:425.4px;transform:translate(-100%,-50%);">0.65%</div><div class="lb td" style="left:968.4px;top:425.4px;transform:translate(-100%,-50%);">6.57</div><div class="lb td" style="left:1029.2px;top:425.4px;transform:translate(-100%,-50%);">0.59%</div><div class="lb td" style="left:745.4px;top:444.3px;transform:translate(-50%,-50%);"><span class="cj">经营租赁项目</span></div><div class="lb td" style="left:842.8px;top:444.3px;transform:translate(-100%,-50%);">50.72</div><div class="lb td" style="left:903.5px;top:444.3px;transform:translate(-100%,-50%);">5.69%</div><div class="lb td" style="left:968.4px;top:444.3px;transform:translate(-100%,-50%);">119.43</div><div class="lb td" style="left:1029.2px;top:444.3px;transform:translate(-100%,-50%);">10.81%</div><div class="lb td" style="left:745.4px;top:463.2px;transform:translate(-50%,-50%);"><span class="cj">合计</span></div><div class="lb td" style="left:842.8px;top:463.2px;transform:translate(-100%,-50%);">891.44</div><div class="lb td" style="left:903.5px;top:463.2px;transform:translate(-100%,-50%);">100.00%</div><div class="lb td" style="left:968.4px;top:463.2px;transform:translate(-100%,-50%);">1105.01</div><div class="lb td" style="left:1029.2px;top:463.2px;transform:translate(-100%,-50%);">100.00%</div><div class="lb ft" style="left:1039.5px;top:496.6px;transform:translate(-100%,-50%);">* <span class="cj">本页面数据纯属虚构</span> *</div><div class="abs" style="left:1061.2px;top:245px;width:7.8px;height:262.5px;border-radius:4px 4px 0 0;background:#d5d5d8"></div>
</div></div>
</body></html>
